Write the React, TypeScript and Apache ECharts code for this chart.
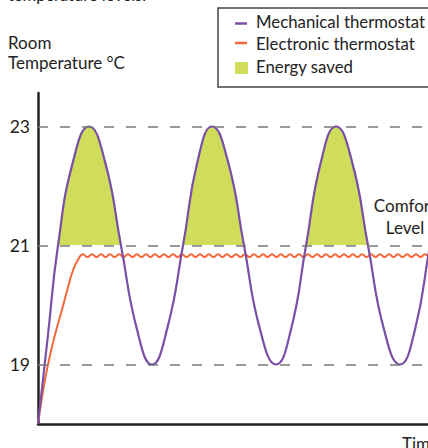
import React, { useEffect, useRef } from "react";
import * as echarts from "echarts";

// y-axis tick labels shown on the chart
const yTickLabels = [19, 21, 23];
// dashed reference levels (°C)
const referenceLevels = [19, 21, 23];
// comfort threshold above which heating is wasted
const comfortThreshold = 21;

// Mechanical thermostat: [time, °C] key points
const mechanical: [number, number][] = [
  [0, 18], [10, 19.5], [20, 21], [35, 22.41], [51, 23], [67, 22.41], [83, 21],
  [99, 19.59], [114, 19], [129, 19.59], [145, 21], [159.5, 22.41], [174, 23],
  [190, 22.41], [206, 21], [222, 19.59], [238, 19], [253, 19.59], [268, 21],
  [283, 22.41], [298, 23], [314, 22.41], [330, 21], [346, 19.59], [362, 19],
  [377, 19.59], [392, 21], [408, 22.41], [423, 23],
];

// Electronic thermostat: [time, °C]
const electronic: [number, number][] = [
  [0, 18], [4, 18.45], [10, 19.0], [17, 19.5], [24, 19.92], [30, 20.3],
  [35, 20.58], [40, 20.76], [45, 20.855],
  [49.5, 20.805], [54, 20.855], [58.5, 20.805], [63, 20.855], [67.5, 20.805],
  [72, 20.855], [76.5, 20.805], [81, 20.855], [85.5, 20.805], [90, 20.855],
  [94.5, 20.805], [99, 20.855], [103.5, 20.805], [108, 20.855], [112.5, 20.805],
  [117, 20.855], [121.5, 20.805], [126, 20.855], [130.5, 20.805], [135, 20.855],
  [139.5, 20.805], [144, 20.855], [148.5, 20.805], [153, 20.855], [157.5, 20.805],
  [162, 20.855], [166.5, 20.805], [171, 20.855], [175.5, 20.805], [180, 20.855],
  [184.5, 20.805], [189, 20.855], [193.5, 20.805], [198, 20.855], [202.5, 20.805],
  [207, 20.855], [211.5, 20.805], [216, 20.855], [220.5, 20.805], [225, 20.855],
  [229.5, 20.805], [234, 20.855], [238.5, 20.805], [243, 20.855], [247.5, 20.805],
  [252, 20.855], [256.5, 20.805], [261, 20.855], [265.5, 20.805], [270, 20.855],
  [274.5, 20.805], [279, 20.855], [283.5, 20.805], [288, 20.855], [292.5, 20.805],
  [297, 20.855], [301.5, 20.805], [306, 20.855], [310.5, 20.805], [315, 20.855],
  [319.5, 20.805], [324, 20.855], [328.5, 20.805], [333, 20.855], [337.5, 20.805],
  [342, 20.855], [346.5, 20.805], [351, 20.855], [355.5, 20.805], [360, 20.855],
  [364.5, 20.805], [369, 20.855], [373.5, 20.805], [378, 20.855], [382.5, 20.805],
  [387, 20.855], [391.5, 20.805], [396, 20.855], [400.5, 20.805], [405, 20.855],
  [409.5, 20.805], [414, 20.855], [418.5, 20.805],
];

const legendItems = ["Mechanical thermostat", "Electronic thermostat", "Energy saved"];

const PURPLE = "#7a4fa6";
const ORANGE = "#f26a3c";
const GREEN = "#cfdd5a";
const INK = "#222222";
const FONT = "Lato, 'Noto Sans', sans-serif";

export default function App() {
  const ref = useRef<HTMLDivElement>(null);
  useEffect(() => {
    if (!ref.current) return;
    const chart = echarts.init(ref.current, null, { renderer: "svg" });
    chart.setOption({
      animation: false,
      textStyle: { fontFamily: FONT },
      grid: { left: 38, top: 93, right: 0, height: 331, containLabel: false },
      xAxis: {
        type: "value",
        min: 0,
        max: 390,
        axisLine: { show: true, lineStyle: { color: INK, width: 2.5 } },
        axisTick: { show: false },
        axisLabel: { show: false },
        splitLine: { show: false },
      },
      yAxis: {
        type: "value",
        min: 18,
        max: 18 + 331 / 59.5,
        interval: 1,
        axisLine: { show: true, onZero: false, lineStyle: { color: INK, width: 2.5 } },
        axisTick: { show: false },
        splitLine: { show: false },
        axisLabel: {
          color: INK,
          fontSize: 17.5,
          fontFamily: FONT,
          margin: 8,
          showMaxLabel: false,
          formatter: (v: number) => (yTickLabels.includes(Math.round(v * 1000) / 1000) ? String(v) : ""),
        },
      },
      visualMap: {
        show: false,
        type: "piecewise",
        dimension: 1,
        seriesIndex: 0,
        pieces: [
          { gt: comfortThreshold, lte: 30, color: GREEN },
          { gte: 10, lte: comfortThreshold, color: "rgba(255,255,255,0)" },
        ],
      },
      series: [
        {
          name: legendItems[2],
          type: "line",
          data: mechanical,
          smooth: true,
          symbol: "none",
          lineStyle: { width: 0, opacity: 0 },
          areaStyle: { origin: comfortThreshold, opacity: 1 },
          z: 1,
        },
        {
          name: "levels",
          type: "line",
          data: [],
          markLine: {
            silent: true,
            symbol: ["none", "none"],
            label: { show: false },
            lineStyle: { type: [10, 12], color: "#7a7a7a", width: 1.6 },
            data: referenceLevels.map((v) => ({ yAxis: v })),
          },
        },
        {
          name: legendItems[1],
          type: "line",
          data: electronic,
          smooth: true,
          symbol: "none",
          lineStyle: { color: ORANGE, width: 2 },
          z: 3,
        },
        {
          name: legendItems[0],
          type: "line",
          data: mechanical,
          smooth: true,
          symbol: "none",
          lineStyle: { color: PURPLE, width: 2.2 },
          z: 4,
        },
      ],
      graphic: [
        { type: "text", left: 8, top: -14, z: 100, style: { text: "temperature levels.", fontSize: 16.5, fontFamily: FONT, fill: INK } },
        { type: "text", left: 8, top: 34, z: 100, style: { text: "Room", fontSize: 17, fontFamily: FONT, fill: INK } },
        { type: "text", left: 8, top: 54, z: 100, style: { text: "Temperature °C", fontSize: 17, fontFamily: FONT, fill: INK } },
        {
          type: "rect",
          z: 100,
          shape: { x: 218, y: 8, width: 240, height: 79 },
          style: { fill: "none", stroke: "#444", lineWidth: 1.5 },
        },
        { type: "line", z: 100, shape: { x1: 235, y1: 23.5, x2: 247, y2: 23.5 }, style: { stroke: PURPLE, lineWidth: 2.5 } },
        { type: "line", z: 100, shape: { x1: 235, y1: 43, x2: 247, y2: 43 }, style: { stroke: ORANGE, lineWidth: 2.5 } },
        { type: "rect", z: 100, shape: { x: 235, y: 62, width: 13, height: 12 }, style: { fill: GREEN } },
        { type: "text", left: 256, top: 13, z: 100, style: { text: legendItems[0], fontSize: 16.8, fontFamily: FONT, fill: INK } },
        { type: "text", left: 256, top: 35, z: 100, style: { text: legendItems[1], fontSize: 16.8, fontFamily: FONT, fill: INK } },
        { type: "text", left: 256, top: 58, z: 100, style: { text: legendItems[2], fontSize: 16.8, fontFamily: FONT, fill: INK } },
        { type: "text", x: 405, y: 205, z: 100, style: { text: "Comfort", fontSize: 17, fontFamily: FONT, fill: INK, align: "center", verticalAlign: "middle" } },
        { type: "text", x: 405, y: 227, z: 100, style: { text: "Level", fontSize: 17, fontFamily: FONT, fill: INK, align: "center", verticalAlign: "middle" } },
        { type: "text", x: 402, y: 443, z: 100, style: { text: "Time", fontSize: 17, fontFamily: FONT, fill: INK, align: "left", verticalAlign: "middle" } },
      ],
    });
    return () => chart.dispose();
  }, []);
  return <div ref={ref} style={{ position: "absolute", left: 0, top: 0, width: 428, height: 448 }} />;
}
